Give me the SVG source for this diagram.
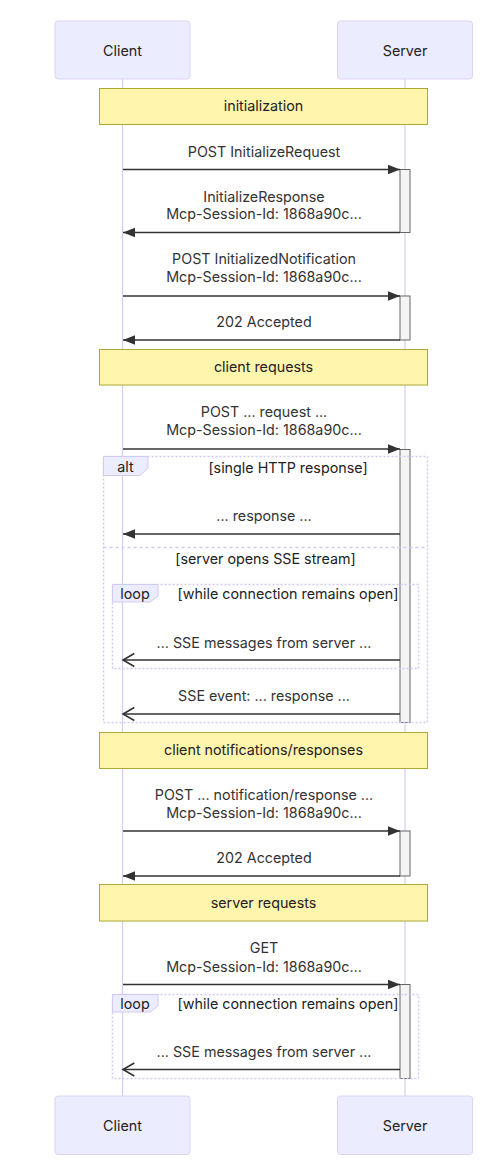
<svg xmlns="http://www.w3.org/2000/svg" width="497" height="1169" viewBox="0 0 497 1169">
<style>
text{font-family:Inter,"Noto Sans","Liberation Sans",sans-serif;font-size:14.3px;text-anchor:middle}
.actor rect{fill:#ececff;stroke:#ddd3f5;stroke-width:1}
.actor text{fill:#222}
.life{stroke:#d6ccf3;stroke-width:1.2}
.note rect{fill:#fff5ad;stroke:#aaaa33;stroke-width:1}
.note text{fill:#222}
.act{fill:#f4f4f4;stroke:#666;stroke-width:1}
.frame{fill:none;stroke:#d3c9f2;stroke-width:1.5;stroke-dasharray:2,2}
.sep{fill:none;stroke:#d3c9f2;stroke-width:1.5;stroke-dasharray:3,3}
.lbl{fill:#ececff;stroke:#d3c9f2;stroke-width:1}
.ft{fill:#222}
.msg{stroke:#333;stroke-width:1.5;fill:none}
.mt{fill:#333}
</style>
<defs>
<marker id="filled" markerUnits="userSpaceOnUse" markerWidth="12" markerHeight="12" viewBox="0 0 10 8" refX="10" refY="4" orient="auto">
<path d="M0,0 L10,4 L0,8 z" fill="#333"/>
</marker>
<marker id="open" markerUnits="userSpaceOnUse" markerWidth="14" markerHeight="16" viewBox="-1 -1 13 14" refX="10.5" refY="6" orient="auto">
<path d="M0,0 L10.5,6 L0,12" fill="none" stroke="#333" stroke-width="1.5"/>
</marker>
</defs>
<rect width="497" height="1169" fill="#ffffff"/>
<g id="lifelines">
<line class="life" x1="122.5" y1="79" x2="122.5" y2="1096"/>
<line class="life" x1="405" y1="79" x2="405" y2="1096"/>
</g>
<g id="actor-client-top" class="actor"><rect x="55" y="21" width="135" height="58" rx="3"/><text x="122.5" y="55.5">Client</text></g>
<g id="actor-server-top" class="actor"><rect x="337.5" y="21" width="135" height="58" rx="3"/><text x="405" y="55.5">Server</text></g>
<g id="actor-client-bottom" class="actor"><rect x="55" y="1096" width="135" height="58.5" rx="3"/><text x="122.5" y="1130.5">Client</text></g>
<g id="actor-server-bottom" class="actor"><rect x="337.5" y="1096" width="135" height="58.5" rx="3"/><text x="405" y="1130.5">Server</text></g>

<g id="note-initialization" class="note"><rect x="99.5" y="88.5" width="328" height="36"/><text x="263.5" y="111">initialization</text></g>
<g id="note-client-requests" class="note"><rect x="99.5" y="349.5" width="328" height="35.5"/><text x="263.5" y="372">client requests</text></g>
<g id="note-client-notifications" class="note"><rect x="99.5" y="732.5" width="328" height="36"/><text x="263.5" y="755">client notifications/responses</text></g>
<g id="note-server-requests" class="note"><rect x="99.5" y="884.5" width="328" height="36.5"/><text x="263.5" y="907.5">server requests</text></g>

<g id="activation-1"><rect class="act" x="400" y="169.5" width="10" height="63"/></g>
<g id="activation-2"><rect class="act" x="400" y="296" width="10" height="44"/></g>
<g id="activation-3"><rect class="act" x="400" y="449.5" width="10" height="273"/></g>
<g id="activation-4"><rect class="act" x="400" y="831" width="10" height="45"/></g>
<g id="activation-5"><rect class="act" x="400" y="984.5" width="10" height="94"/></g>

<g id="alt-frame">
<rect class="frame" x="103.5" y="456.5" width="324" height="266"/>
<polygon class="lbl" points="103.5,456.5 148,456.5 148,468 140,475.5 103.5,475.5"/>
<text class="ft" x="125.5" y="472">alt</text>
<text class="ft" x="288" y="473">[single HTTP response]</text>
<line class="sep" x1="103.5" y1="547.5" x2="427.5" y2="547.5"/>
<text class="ft" x="265.5" y="564">[server opens SSE stream]</text>
</g>
<g id="loop-frame-1">
<rect class="frame" x="112.5" y="584.5" width="306" height="84"/>
<polygon class="lbl" points="112.5,584.5 158,584.5 158,596 150,602 112.5,602"/>
<text class="ft" x="135" y="599">loop</text>
<text class="ft" x="288" y="599">[while connection remains open]</text>
</g>
<g id="loop-frame-2">
<rect class="frame" x="112.5" y="994.5" width="306" height="84"/>
<polygon class="lbl" points="112.5,994.5 158,994.5 158,1006 150,1012 112.5,1012"/>
<text class="ft" x="135" y="1009">loop</text>
<text class="ft" x="288" y="1009">[while connection remains open]</text>
</g>

<g id="connectors">
<line class="msg" x1="123" y1="169.5" x2="400" y2="169.5" marker-end="url(#filled)"/>
<text class="mt" x="264" y="156.5">POST InitializeRequest</text>
<line class="msg" x1="400" y1="232.5" x2="123" y2="232.5" marker-end="url(#filled)"/>
<text class="mt" x="264" y="201.5">InitializeResponse</text>
<text class="mt" x="264" y="219">Mcp-Session-Id: 1868a90c...</text>
<line class="msg" x1="123" y1="296" x2="400" y2="296" marker-end="url(#filled)"/>
<text class="mt" x="264" y="264">POST InitializedNotification</text>
<text class="mt" x="264" y="282">Mcp-Session-Id: 1868a90c...</text>
<line class="msg" x1="400" y1="340" x2="123" y2="340" marker-end="url(#filled)"/>
<text class="mt" x="264" y="327">202 Accepted</text>
<line class="msg" x1="123" y1="449" x2="400" y2="449" marker-end="url(#filled)"/>
<text class="mt" x="264" y="417">POST ... request ...</text>
<text class="mt" x="264" y="435">Mcp-Session-Id: 1868a90c...</text>
<line class="msg" x1="400" y1="534" x2="123" y2="534" marker-end="url(#filled)"/>
<text class="mt" x="264" y="521">... response ...</text>
<line class="msg" x1="400" y1="660" x2="123" y2="660" marker-end="url(#open)"/>
<text class="mt" x="264" y="647.5">... SSE messages from server ...</text>
<line class="msg" x1="400" y1="714" x2="123" y2="714" marker-end="url(#open)"/>
<text class="mt" x="264" y="701">SSE event: ... response ...</text>
<line class="msg" x1="123" y1="831" x2="400" y2="831" marker-end="url(#filled)"/>
<text class="mt" x="264" y="800">POST ... notification/response ...</text>
<text class="mt" x="264" y="818">Mcp-Session-Id: 1868a90c...</text>
<line class="msg" x1="400" y1="876" x2="123" y2="876" marker-end="url(#filled)"/>
<text class="mt" x="264" y="862.5">202 Accepted</text>
<line class="msg" x1="123" y1="984.5" x2="400" y2="984.5" marker-end="url(#filled)"/>
<text class="mt" x="264" y="953">GET</text>
<text class="mt" x="264" y="972">Mcp-Session-Id: 1868a90c...</text>
<line class="msg" x1="400" y1="1069.5" x2="123" y2="1069.5" marker-end="url(#open)"/>
<text class="mt" x="264" y="1057">... SSE messages from server ...</text>
</g>
</svg>
